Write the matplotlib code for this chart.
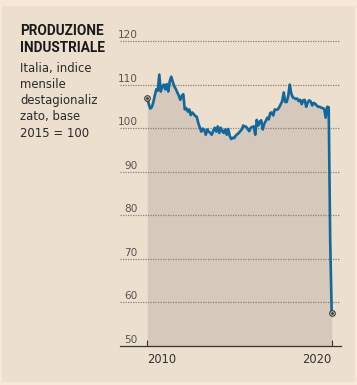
import numpy as np
import matplotlib
matplotlib.use("Agg")
import matplotlib.pyplot as plt
from matplotlib.patches import Rectangle

# ---- data ----
values = [
    106.9, 105.5, 104.5, 104.8, 105.9, 107.5, 108.9, 108.6, 112.3, 108.4,
    109.6, 110.0, 108.9, 110.1, 108.4, 110.8, 111.8, 110.6, 109.6, 109.0,
    108.2, 107.5, 106.5, 107.4, 107.8, 104.3, 104.6, 103.8, 104.3, 103.0,
    103.6, 103.2, 102.8, 102.6, 101.2, 100.2, 99.2, 99.9, 99.6, 98.5,
    99.7, 99.2, 98.9, 98.5, 99.4, 100.1, 99.2, 100.4, 98.9, 100.1,
    99.3, 98.9, 99.7, 98.5, 99.8, 98.2, 97.5, 97.8, 97.7, 98.3,
    98.6, 98.9, 99.3, 99.7, 100.6, 100.4, 100.3, 99.8, 99.3, 100.1,
    100.3, 100.4, 98.5, 101.9, 100.6, 101.5, 101.8, 99.7, 101.0, 101.6,
    102.4, 102.0, 103.5, 103.6, 102.9, 104.3, 104.2, 104.3, 104.8, 105.5,
    106.2, 108.2, 106.0, 106.0, 107.4, 110.0, 108.0, 107.1, 106.9, 106.7,
    106.8, 106.2, 106.5, 105.5, 106.4, 106.5, 104.9, 105.9, 106.4, 106.1,
    105.2, 105.8, 105.6, 105.2, 104.9, 104.9, 104.7, 104.6, 104.4, 102.4,
    104.9, 104.8, 74.0, 57.6,
]
x_labels = ["2010", "2020"]
y_ticks = [50, 60, 70, 80, 90, 100, 110, 120]
y_labels = ["50", "60", "70", "80", "90", "100", "110", "120"]
subtitle = ["Italia, indice", "mensile", "destagionaliz", "zato, base", "2015 = 100"]

# ---- style ----
outer_bg = "#f8e8d8"
panel_bg = "#ecdfce"
fill_col = "#d6c9bb"
line_col = "#13679d"
W, H = 357, 385

fig = plt.figure(figsize=(W / 100, H / 100), dpi=100, facecolor=outer_bg)
fig.patches.append(Rectangle((2 / W, 3 / H), 353 / W, 376 / H, transform=fig.transFigure,
                             facecolor=panel_bg, edgecolor="none", zorder=-10))

ax = fig.add_axes([120 / W, 39 / H, 221 / W, (352.7 - 39) / H])
ax.set_facecolor("none")
ax.set_zorder(5)

x = np.arange(len(values))
ax.set_xlim(-18.2, len(values) - 1 + 6.2)
ax.set_ylim(50, 122)

ax.fill_between(x, values, 50, color=fill_col, lw=0, zorder=1)
ax.plot(x, values, color=line_col, lw=1.9, zorder=3, solid_joinstyle="round")

for xi in (x[0], x[-1]):
    ax.plot([xi], [values[xi]], marker="o", ms=4, mfc=panel_bg, mec="#333333", mew=0.8, zorder=4)
    ax.plot([xi], [values[xi]], marker="o", ms=1.0, mfc="#333333", mec="#333333", zorder=5)

# gridlines
for v in y_ticks[1:]:
    ax.plot([-18.2, len(values) - 1 + 5], [v, v], color="#8a8178", lw=0.9,
            ls=(0, (1, 1)), zorder=2)

# y labels
for v, lab in zip(y_ticks, y_labels):
    ax.annotate(lab, xy=(18 / 221, v), xycoords=("axes fraction", "data"),
                xytext=(0, 3), textcoords="offset pixels", ha="right", va="baseline",
                fontsize=7.6, color="#555555", family="DejaVu Sans")

for s in ["top", "right", "left"]:
    ax.spines[s].set_visible(False)
ax.spines["bottom"].set_color("#333333")
ax.spines["bottom"].set_linewidth(0.9)
ax.set_yticks([])
ax.set_xticks([x[0], x[-1]])
ax.set_xticklabels(x_labels, fontsize=8.3, color="#333333", family="DejaVu Sans")
ax.tick_params(axis="x", direction="in", length=4, width=0.8, color="#333333", pad=5)
tl = ax.get_xticklabels()
tl[0].set_horizontalalignment("left")
tl[1].set_horizontalalignment("right")

# title & subtitle
fig.text(20 / W, 1 - 35 / H, "PRODUZIONE", fontsize=9.8, fontweight="bold",
         family="Roboto", color="#1a1a1a", va="baseline", ha="left")
fig.text(20 / W, 1 - 51.7 / H, "INDUSTRIALE", fontsize=9.8, fontweight="bold",
         family="Roboto", color="#1a1a1a", va="baseline", ha="left")
for i, line in enumerate(subtitle):
    fig.text(20 / W, 1 - (71.7 + 16.25 * i) / H, line, fontsize=8.4,
             family="DejaVu Sans", color="#2a2a2a", va="baseline", ha="left")

fig.savefig("out.png", dpi=100, facecolor=outer_bg)
